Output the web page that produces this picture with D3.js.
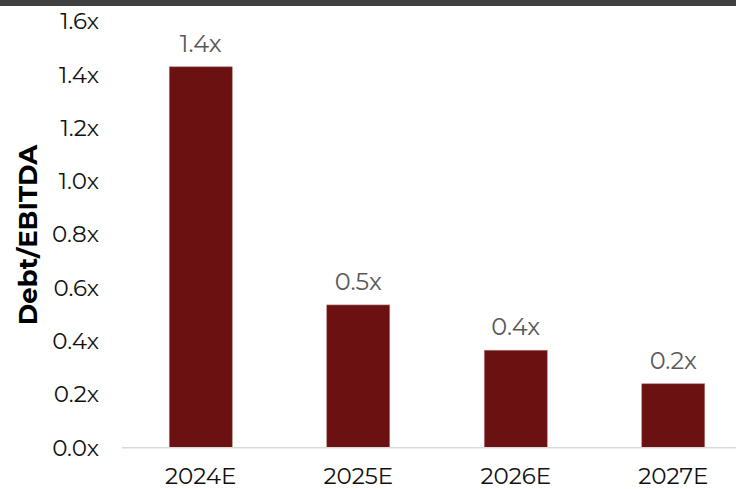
<!DOCTYPE html>
<html>
<head>
<meta charset="utf-8">
<script src="https://cdn.jsdelivr.net/npm/d3@7"></script>
<style>
  body { margin: 0; background: #fff; }
  svg { display: block; font-family: Montserrat, "Open Sans", sans-serif; }
</style>
</head>
<body>
<svg id="canvas" width="736" height="489"></svg>
<script>
let years = ['2024E', '2025E', '2026E', '2027E']
let leverage = [1.43, 0.536, 0.366, 0.24]
let yTicks = [0, 0.2, 0.4, 0.6, 0.8, 1.0, 1.2, 1.4, 1.6]

let chartWidth = 736
let plotLeft = 122
let plotBottom = 447.7
let plotTop = 21.5

let canvas = d3.select('#canvas')

// top dark band
canvas.append('rect')
      .attr('x', 0).attr('y', 0)
      .attr('width', chartWidth).attr('height', 6)
      .attr('fill', '#404040')

let xScale = d3.scaleBand()
               .domain(years)
               .range([plotLeft, plotLeft + 4 * 157.5])
               .paddingInner(0.6)
               .paddingOuter(0.3)

let yScale = d3.scaleLinear()
               .domain([0, 1.6])
               .range([plotBottom, plotTop])

let fmt = d3.format('.1f')

// y axis labels (no line)
let yAxis = d3.axisLeft(yScale)
              .tickValues(yTicks)
              .tickFormat((d) => fmt(d) + 'x')
              .tickSize(0)
              .tickPadding(0)

canvas.append('g')
      .attr('transform', 'translate(99,0)')
      .call(yAxis)
      .call((g) => g.select('.domain').remove())
      .selectAll('text')
      .attr('font-size', 23)
      .attr('fill', '#111')
      .attr('font-family', 'Montserrat, "Open Sans", sans-serif')

// bars
canvas.selectAll('.bar')
      .data(years)
      .enter()
      .append('rect')
      .attr('class', 'bar')
      .attr('x', (d) => xScale(d))
      .attr('y', (d, i) => yScale(leverage[i]))
      .attr('width', xScale.bandwidth())
      .attr('height', (d, i) => plotBottom - yScale(leverage[i]))
      .attr('fill', '#6b1111')
      .attr('stroke', '#b98080')
      .attr('stroke-width', 0.6)

// baseline
canvas.append('line')
      .attr('x1', plotLeft).attr('x2', chartWidth)
      .attr('y1', plotBottom).attr('y2', plotBottom)
      .attr('stroke', '#d9d9d9')
      .attr('stroke-width', 1.5)

// value labels
canvas.selectAll('.value')
      .data(years)
      .enter()
      .append('text')
      .attr('class', 'value')
      .attr('x', (d) => xScale(d) + xScale.bandwidth() / 2)
      .attr('y', (d, i) => yScale(leverage[i]) - 15)
      .attr('text-anchor', 'middle')
      .attr('font-size', 24)
      .attr('fill', '#595959')
      .text((d, i) => fmt(leverage[i]) + 'x')

// x axis labels
let xAxis = d3.axisBottom(xScale).tickSize(0).tickPadding(0)
canvas.append('g')
      .attr('transform', 'translate(0,' + plotBottom + ')')
      .call(xAxis)
      .call((g) => g.select('.domain').remove())
      .selectAll('text')
      .attr('dy', null)
      .attr('y', 36)
      .attr('font-size', 23)
      .attr('fill', '#111')
      .attr('font-family', 'Montserrat, "Open Sans", sans-serif')

// y axis title
canvas.append('text')
      .attr('transform', 'translate(37,235) rotate(-90)')
      .attr('text-anchor', 'middle')
      .attr('font-size', 26)
      .attr('font-weight', 'bold')
      .attr('fill', '#000')
      .text('Debt/EBITDA')
</script>
</body>
</html>
